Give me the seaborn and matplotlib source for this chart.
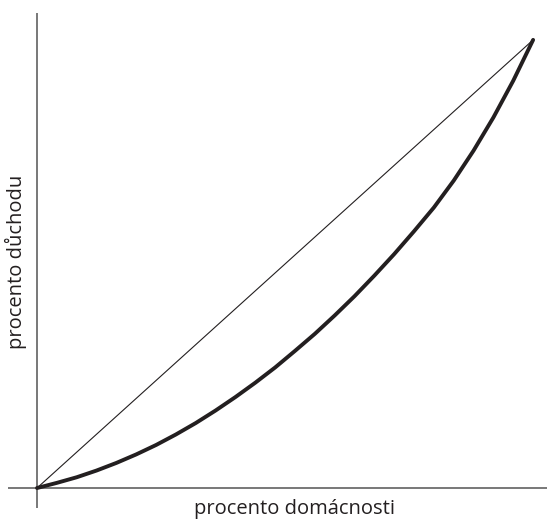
import matplotlib
matplotlib.use("Agg")
import matplotlib.pyplot as plt
import seaborn as sns
import pandas as pd

# Data (percent)
households = [0, 4, 8, 12, 16, 20, 24, 28, 32, 36, 40, 44, 48, 52, 56, 60, 64, 68, 72, 76, 80, 84, 88, 92, 96, 100]
income = [0, 1.15, 2.4, 3.9, 5.6, 7.5, 9.6, 11.95, 14.5, 17.3, 20.3, 23.5, 26.9, 30.6, 34.4, 38.5, 42.8, 47.4, 52.2, 57.3, 62.6, 68.6, 75.3, 82.7, 90.9, 100]
equality = [0, 100]

x_label = "procento domácnosti"
y_label = "procento důchodu"

sns.set_theme(style="white")
plt.rcParams['font.family'] = ['Open Sans', 'DejaVu Sans']

fig = plt.figure(figsize=(5.49, 5.20), dpi=100)
ax = fig.add_axes([8/549, 12/520, 539/549, 495/520])

df = pd.DataFrame({"x": households, "y": income})
sns.lineplot(data=df, x="x", y="y", ax=ax, color="#231f20", linewidth=2.8,
             sort=True, solid_joinstyle="round", solid_capstyle="round")
sns.lineplot(x=equality, y=equality, ax=ax, color="#231f20", linewidth=0.8)

ax.axhline(0, color="#6d6d6d", linewidth=1.3, zorder=0)
ax.axvline(0, color="#6d6d6d", linewidth=1.3, zorder=0)

ax.set_xlim(-5.85, 102.8)
ax.set_ylim(-4.46, 106.0)
for s in ax.spines.values():
    s.set_visible(False)
ax.set_xticks([])
ax.set_yticks([])
ax.set_xlabel("")
ax.set_ylabel("")
ax.set_facecolor("white")

fig.text(295/549, 1 - 509/520, x_label, ha="center", va="center", fontsize=14.5, color="#231f20")
fig.text(16/549, 1 - 262/520, y_label, ha="center", va="center", rotation=90, fontsize=14.5, color="#231f20")

fig.savefig("out.png", dpi=100, facecolor="white")
